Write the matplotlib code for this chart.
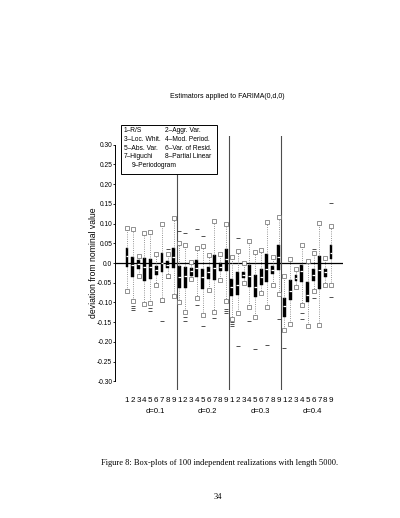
import matplotlib
matplotlib.use("Agg")
import matplotlib.pyplot as plt
from matplotlib.patches import Rectangle

plt.rcParams["font.family"] = ["Liberation Sans", "DejaVu Sans"]

# box-plot statistics (36 boxes: 9 estimators x 4 values of d)
whisker_hi = [0.090, 0.086, 0.018, 0.075, 0.079, 0.024, 0.100, 0.022, 0.114,
              0.050, 0.046, 0.003, 0.038, 0.043, 0.020, 0.106, 0.022, 0.099,
              0.016, 0.031, 0.001, 0.057, 0.027, 0.033, 0.104, 0.014, 0.117,
              -0.033, 0.011, -0.015, 0.045, 0.006, 0.025, 0.102, 0.012, 0.094]
upper_q = [0.039, 0.016, 0.008, 0.012, 0.009, -0.008, 0.026, 0.006, 0.038,
           -0.007, -0.011, -0.013, 0.007, -0.016, -0.010, 0.020, 0.000, 0.036,
           -0.041, -0.023, -0.022, -0.005, -0.030, -0.014, 0.022, -0.008, 0.045,
           -0.088, -0.044, -0.030, -0.006, -0.049, -0.016, 0.018, -0.015, 0.046]
medians = [0.018, -0.004, -0.003, -0.011, -0.010, -0.019, 0.000, -0.004, 0.016,
           -0.036, -0.034, -0.021, -0.013, -0.036, -0.024, -0.012, -0.010, 0.009,
           -0.062, -0.055, -0.030, -0.033, -0.062, -0.036, -0.014, -0.019, 0.014,
           -0.110, -0.070, -0.037, -0.020, -0.080, -0.031, -0.018, -0.023, 0.026]
lower_q = [-0.010, -0.035, -0.015, -0.046, -0.040, -0.030, -0.024, -0.013, -0.013,
           -0.063, -0.064, -0.033, -0.036, -0.066, -0.040, -0.043, -0.021, -0.020,
           -0.084, -0.080, -0.039, -0.060, -0.087, -0.057, -0.047, -0.029, -0.019,
           -0.137, -0.095, -0.046, -0.049, -0.100, -0.045, -0.066, -0.035, 0.011]
whisker_lo = [-0.070, -0.096, -0.032, -0.104, -0.101, -0.056, -0.093, -0.032, -0.083,
              -0.100, -0.125, -0.041, -0.090, -0.131, -0.068, -0.124, -0.042, -0.097,
              -0.141, -0.127, -0.050, -0.112, -0.136, -0.077, -0.112, -0.057, -0.078,
              -0.170, -0.154, -0.060, -0.107, -0.160, -0.072, -0.156, -0.056, -0.056]
outliers = [[], [-0.108, -0.114, -0.120], [], [], [-0.113, -0.121], [], [-0.099, -0.146], [0.036, -0.037], [],
            [0.080], [0.076, -0.136, -0.148], [], [0.085, -0.106], [0.068, -0.159], [], [-0.140], [], [-0.116, -0.122, -0.128],
            [-0.149, -0.155, -0.160], [0.063, -0.211], [], [-0.147], [-0.218], [], [-0.207], [], [-0.141],
            [-0.215], [], [], [-0.126, -0.141], [], [0.035, -0.090], [], [], [0.151, -0.086]]

estimators = ["1", "2", "3", "4", "5", "6", "7", "8", "9"]
d_values = ["d=0.1", "d=0.2", "d=0.3", "d=0.4"]
legend_rows = [("1\u2013R/S", "2\u2013Aggr. Var."),
               ("3\u2013Loc. Whit.", "4\u2013Mod. Period."),
               ("5\u2013Abs. Var.", "6\u2013Var. of Resid."),
               ("7\u2013Higuchi", "8\u2013Partial Linear")]
legend_last = "9\u2013Periodogram"
yticks = [0.30, 0.25, 0.20, 0.15, 0.10, 0.05, 0.0, -0.05, -0.10, -0.15, -0.20, -0.25, -0.30]
ytick_labels = ["0.30", "0.25", "0.20", "0.15", "0.10", "0.05", "0.0",
                "-0.05", "-0.10", "-0.15", "-0.20", "-0.25", "-0.30"]

W, H = 400, 518
fig = plt.figure(figsize=(W / 100, H / 100), dpi=100)
ax = fig.add_axes([115 / W, 1 - 390 / H, 228 / W, 254 / H])

n_est = len(estimators)
positions = list(range(1, n_est * len(d_values) + 1))
stats = []
for i in range(len(positions)):
    stats.append({"whislo": whisker_lo[i], "q1": lower_q[i], "med": medians[i],
                  "q3": upper_q[i], "whishi": whisker_hi[i], "fliers": outliers[i]})

ax.bxp(stats, positions=positions, widths=0.5, patch_artist=True, showcaps=False,
       boxprops=dict(facecolor="black", edgecolor="black", linewidth=0.3),
       medianprops=dict(color="white", linewidth=0.9),
       whiskerprops=dict(color="0.45", linestyle=":", linewidth=0.6),
       flierprops=dict(marker="_", markeredgecolor="0.2", markersize=3, markeredgewidth=0.6))

# whisker ends drawn as small open squares
ax.plot(positions, whisker_hi, ls="none", marker="s", ms=2.6, mfc="white", mec="0.4", mew=0.5)
ax.plot(positions, whisker_lo, ls="none", marker="s", ms=2.6, mfc="white", mec="0.4", mew=0.5)

ax.axhline(0, color="black", lw=0.9, zorder=1)
for k in range(1, len(d_values)):
    ax.axvline(k * n_est + 0.5, color="0.3", lw=0.8, zorder=1)

ax.set_xlim(-1.06, 38.06)
ax.set_ylim(-0.322, 0.322)
ax.set_yticks(yticks)
ax.set_yticklabels(ytick_labels)
ax.set_xticks(positions)
ax.set_xticklabels(estimators * len(d_values))
ax.tick_params(axis="x", length=0, pad=5, labelsize=5.8)
ax.tick_params(axis="y", length=1.5, width=0.6, pad=0.5, labelsize=4.8)
for side in ["top", "right", "bottom"]:
    ax.spines[side].set_visible(False)
ax.spines["left"].set_bounds(-0.30, 0.30)
ax.spines["left"].set_linewidth(0.7)

for k, lab in enumerate(d_values):
    ax.text(k * n_est + 5.85, -0.085, lab, transform=ax.get_xaxis_transform(),
            ha="center", va="center", fontsize=5.5)

fig.text(93 / W, 1 - 263 / H, "deviation from nominal value", rotation=90,
         ha="center", va="center", fontsize=6.2)
fig.text(227 / W, 1 - 97 / H, "Estimators applied to FARIMA(0,d,0)",
         ha="center", va="center", fontsize=5.0)

# legend box
fig.add_artist(Rectangle((121 / W, 1 - 174 / H), 96 / W, 49 / H, transform=fig.transFigure,
                         facecolor="white", edgecolor="black", lw=0.7, zorder=5))
for r, (left, right) in enumerate(legend_rows):
    y = 1 - (130.5 + 8.8 * r) / H
    fig.text(124 / W, y, left, ha="left", va="center", fontsize=4.8, zorder=6)
    fig.text(165 / W, y, right, ha="left", va="center", fontsize=4.8, zorder=6)
fig.text(132 / W, 1 - (130.5 + 8.8 * 4) / H, legend_last, ha="left", va="center", fontsize=4.8, zorder=6)

fig.text(220 / W, 1 - 463 / H,
         "Figure 8: Box-plots of 100 independent realizations with length 5000.",
         ha="center", va="center", fontsize=6.0, family=["Liberation Serif", "DejaVu Serif"])
fig.text(218 / W, 1 - 497 / H, "34", ha="center", va="center", fontsize=6.0,
         family=["Liberation Serif", "DejaVu Serif"])

fig.savefig("out.png", dpi=100)
